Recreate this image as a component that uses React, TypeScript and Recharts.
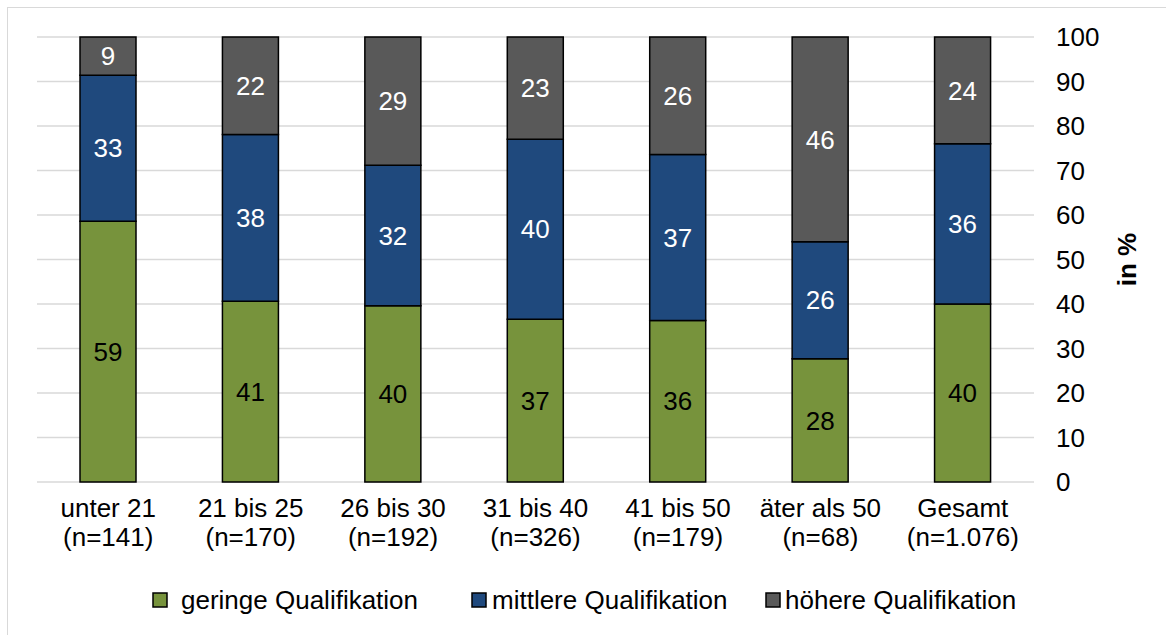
import React from 'react';
import { BarChart, Bar, XAxis, YAxis, CartesianGrid, Legend, LabelList } from 'recharts';

const ageGroups = ['unter 21', '21 bis 25', '26 bis 30', '31 bis 40', '41 bis 50', 'äter als 50', 'Gesamt'];
const sampleSizes = ['(n=141)', '(n=170)', '(n=192)', '(n=326)', '(n=179)', '(n=68)', '(n=1.076)'];
const geringe = [58.6, 40.6, 39.6, 36.6, 36.3, 27.7, 40.0];
const mittlere = [32.8, 37.5, 31.6, 40.4, 37.3, 26.3, 36.0];
const hoehere = [8.6, 21.9, 28.8, 23.0, 26.4, 46.0, 24.0];
const yTicks = [0, 10, 20, 30, 40, 50, 60, 70, 80, 90, 100];
const seriesNames = ['geringe Qualifikation', 'mittlere Qualifikation', 'höhere Qualifikation'];

const data = ageGroups.map((g, i) => ({
  group: g,
  n: sampleSizes[i],
  geringe: geringe[i],
  mittlere: mittlere[i],
  hoehere: hoehere[i],
}));

const FONT = '"Liberation Sans", Arial, sans-serif';
const FS = 26;

const XTick = (props: any) => {
  const { x, y, payload, index } = props;
  return (
    <text x={x} y={y} textAnchor="middle" fontFamily={FONT} fontSize={FS} fill="#000">
      <tspan x={x} dy={35 - 8}>{payload.value}</tspan>
      <tspan x={x} dy={29}>{sampleSizes[index]}</tspan>
    </text>
  );
};

const YTick = (props: any) => {
  const { y, payload } = props;
  return (
    <text x={1056} y={y} dy="0.355em" textAnchor="start" fontFamily={FONT} fontSize={FS} fill="#000">
      {payload.value}
    </text>
  );
};

const YLabel = (props: any) => {
  const vb = props.viewBox || {};
  const cx = (vb.x ?? 1034) + 93;
  const cy = (vb.y ?? 37) + (vb.height ?? 445) / 2;
  return (
    <text
      x={cx}
      y={cy}
      transform={`rotate(-90, ${cx}, ${cy})`}
      textAnchor="middle"
      dy="0.355em"
      fontFamily={FONT}
      fontSize={FS}
      fontWeight="bold"
      fill="#000"
    >
      in %
    </text>
  );
};

const legendLayout = [
  { mx: 153, tx: 181 },
  { mx: 472, tx: 492 },
  { mx: 766, tx: 785 },
];

const LegendContent = (props: any) => {
  const payload = [...(props.payload || [])].sort(
    (a: any, b: any) => seriesNames.indexOf(a.value) - seriesNames.indexOf(b.value)
  );
  return (
    <svg width={1166} height={50} style={{ display: 'block' }}>
      {payload.map((p: any, i: number) => {
        const pos = legendLayout[i] || { mx: 0, tx: 0 };
        return (
          <g key={i}>
            <rect x={pos.mx} y={18} width={14} height={14} fill={p.color} stroke="#000" strokeWidth={1.5} />
            <text x={pos.tx} y={25} dy="0.355em" fontFamily={FONT} fontSize={FS} fill="#000">
              {p.value}
            </text>
          </g>
        );
      })}
    </svg>
  );
};

const fmt = (v: any) => Math.round(Number(v));

export default function App() {
  return (
    <div style={{ position: 'fixed', left: 0, top: 0, width: 1166, height: 635, background: '#fff', overflow: 'hidden' }}>
      <div
        style={{
          position: 'absolute',
          left: 7,
          top: 7,
          width: 1200,
          height: 700,
          borderLeft: '1.5px solid #d9d9d9',
          borderTop: '1.5px solid #d9d9d9',
        }}
      />
      <div style={{ position: 'absolute', left: 0, top: 0 }}>
        <BarChart
          width={1166}
          height={635}
          data={data}
          margin={{ top: 37, right: 8, bottom: 10, left: 37 }}
          barSize={56}
        >
          <CartesianGrid horizontal vertical={false} stroke="#d9d9d9" strokeWidth={1.5} />
          <XAxis dataKey="group" axisLine={false} tickLine={false} height={93} tick={<XTick />} interval={0} />
          <YAxis
            orientation="right"
            domain={[0, 100]}
            ticks={yTicks}
            axisLine={false}
            tickLine={false}
            width={124}
            tick={<YTick />}
            label={<YLabel />}
          />
          <Legend
            verticalAlign="bottom"
            content={<LegendContent />}
            wrapperStyle={{ left: 0, bottom: 10, width: 1166, height: 50 }}
          />
          <Bar dataKey="geringe" name={seriesNames[0]} stackId="a" fill="#77933C" stroke="#000" strokeWidth={1.5} isAnimationActive={false}>
            <LabelList dataKey="geringe" position="center" formatter={fmt} fill="#000" fontSize={FS} fontFamily={FONT} />
          </Bar>
          <Bar dataKey="mittlere" name={seriesNames[1]} stackId="a" fill="#1F497D" stroke="#000" strokeWidth={1.5} isAnimationActive={false}>
            <LabelList dataKey="mittlere" position="center" formatter={fmt} fill="#fff" fontSize={FS} fontFamily={FONT} />
          </Bar>
          <Bar dataKey="hoehere" name={seriesNames[2]} stackId="a" fill="#595959" stroke="#000" strokeWidth={1.5} isAnimationActive={false}>
            <LabelList dataKey="hoehere" position="center" formatter={fmt} fill="#fff" fontSize={FS} fontFamily={FONT} />
          </Bar>
        </BarChart>
      </div>
    </div>
  );
}
